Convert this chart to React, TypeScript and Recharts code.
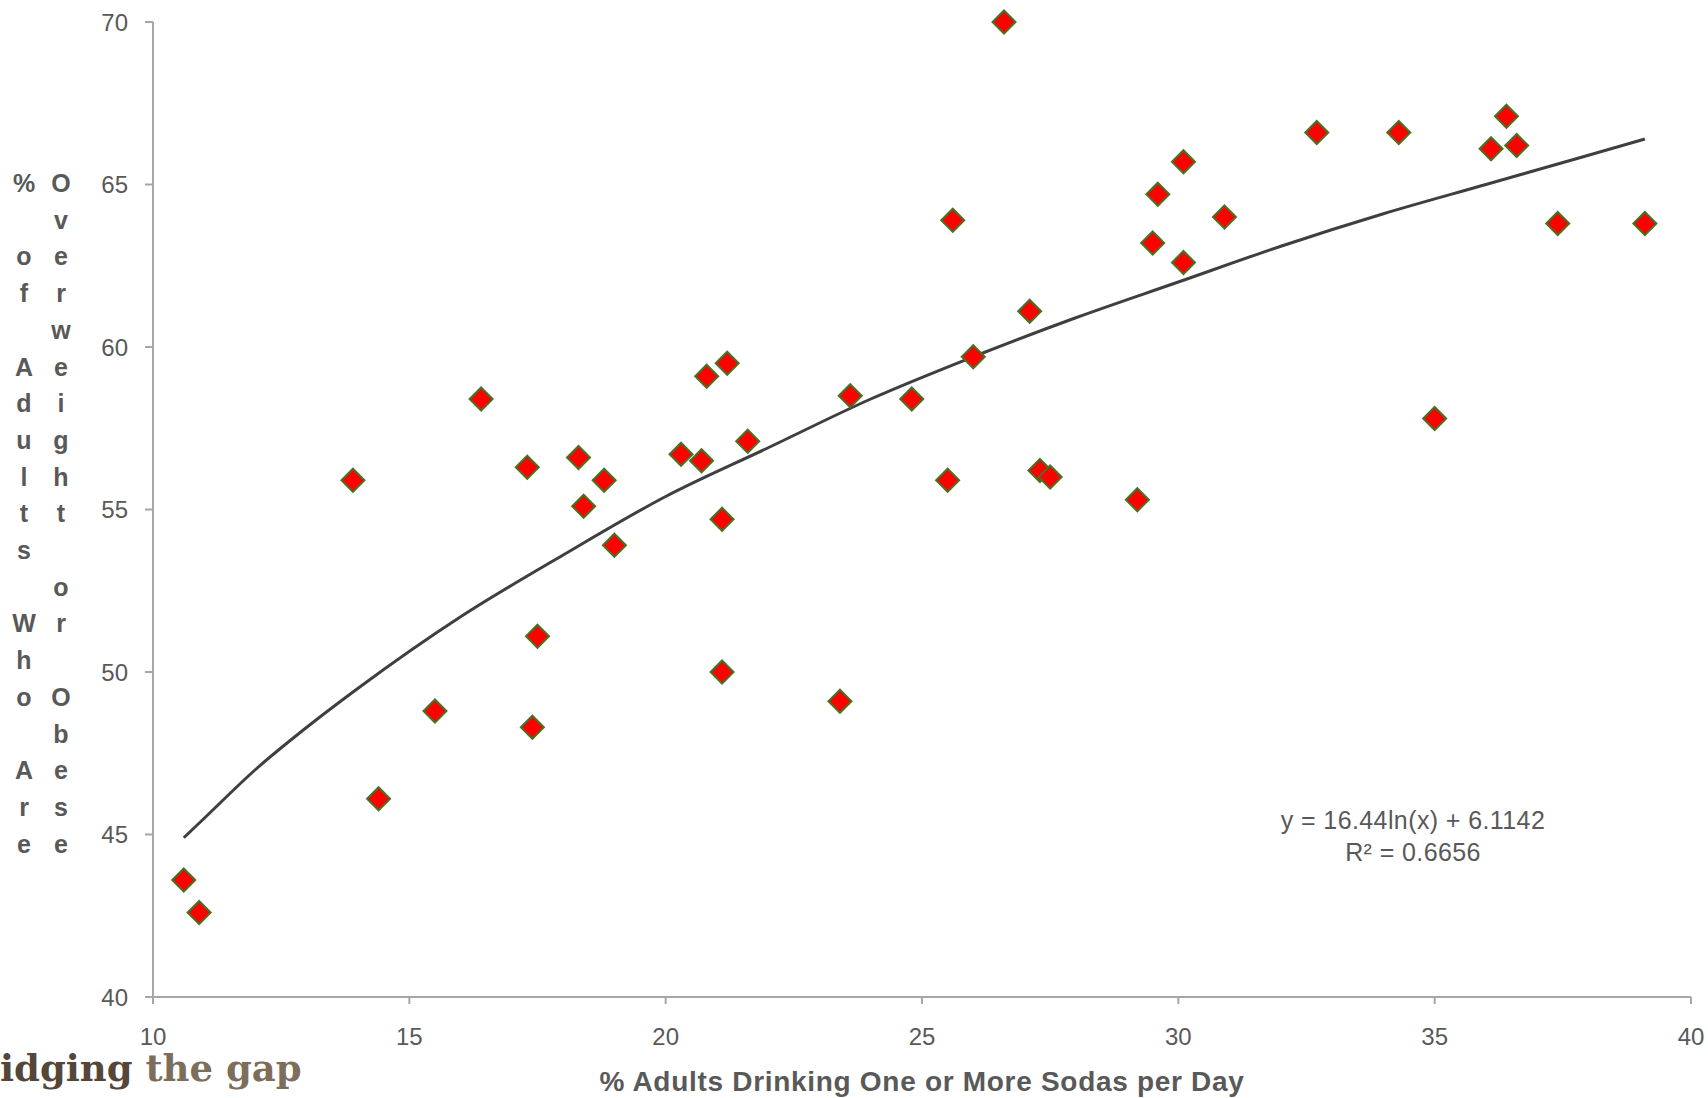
import { ComposedChart, Line, Scatter, XAxis, YAxis } from "recharts";

const AXIS = "#a6a6a6";
const TEXT = "#595959";
const RED = "#ff0000";
const GREEN = "#4a7023";
const TREND = "#3f3f3f";
const SANS = "'Liberation Sans', Arial, sans-serif";

// % adults drinking one or more sodas per day (one entry per state)
const SODA = [
  10.6, 10.9, 13.9, 14.4, 15.5, 16.4, 17.3, 17.4, 17.5, 18.3, 18.4, 18.8, 19.0, 20.3, 20.7,
  20.8, 21.2, 21.1, 21.1, 21.6, 23.4, 23.6, 24.8, 25.5, 25.6, 26.0, 26.6, 27.1, 27.3, 27.5,
  29.2, 29.5, 29.6, 30.1, 30.1, 30.9, 32.7, 34.3, 35.0, 36.1, 36.4, 36.6, 37.4, 39.1,
];
// % adults who are overweight or obese
const OBESE = [
  43.6, 42.6, 55.9, 46.1, 48.8, 58.4, 56.3, 48.3, 51.1, 56.6, 55.1, 55.9, 53.9, 56.7, 56.5,
  59.1, 59.5, 54.7, 50.0, 57.1, 49.1, 58.5, 58.4, 55.9, 63.9, 59.7, 70.0, 61.1, 56.2, 56.0,
  55.3, 63.2, 64.7, 62.6, 65.7, 64.0, 66.6, 66.6, 57.8, 66.1, 67.1, 66.2, 63.8, 63.8,
];

// logarithmic trendline
const TREND_X = [10.6, 11, 12, 13, 14, 16, 18, 20, 22, 24, 26, 28, 30, 32, 34, 36, 38, 39.1];
const TREND_Y = [44.9, 45.5, 47.0, 48.3, 49.5, 51.7, 53.6, 55.4, 56.9, 58.4, 59.7, 60.9, 62.0, 63.1, 64.1, 65.0, 65.9, 66.4];

const X_TICKS = [10, 15, 20, 25, 30, 35, 40];
const Y_TICKS = [40, 45, 50, 55, 60, 65, 70];

const Y_LABEL_COLUMNS = ["% of Adults Who Are", "Overweight or Obese"];
const X_LABEL = "% Adults Drinking One or More Sodas per Day";
const EQUATION = "y = 16.44ln(x) + 6.1142";
const R_SQUARED = "R² = 0.6656";

const points = SODA.map((x, i) => ({ x, y: OBESE[i] }));
const trend = TREND_X.map((x, i) => ({ x, y: TREND_Y[i] }));

const Diamond = (props: any) => {
  const { cx, cy } = props;
  const r = 11.5;
  return (
    <polygon
      points={`${cx},${cy - r} ${cx + r},${cy} ${cx},${cy + r} ${cx - r},${cy}`}
      fill={RED}
      stroke={GREEN}
      strokeWidth={2}
    />
  );
};

// Excel-style stacked text, wrapped into two columns
const StackedYLabel = () => (
  <g>
    {Y_LABEL_COLUMNS.map((col, c) => (
      <text
        key={col}
        fill={TEXT}
        fontFamily={SANS}
        fontWeight="bold"
        fontSize={25}
        textAnchor="middle"
        dominantBaseline="central"
      >
        {col.split("").map((ch, i) => (
          <tspan key={i} x={c === 0 ? 24 : 61} y={183 + i * 36.7}>
            {ch}
          </tspan>
        ))}
      </text>
    ))}
  </g>
);

const XTitle = (props: any) => {
  const vb = props.viewBox || { x: 153, y: 997, width: 1538 };
  return (
    <text
      x={vb.x + vb.width / 2}
      y={vb.y + 94}
      fill={TEXT}
      fontFamily={SANS}
      fontWeight="bold"
      fontSize={28}
      letterSpacing={0.7}
      textAnchor="middle"
    >
      {X_LABEL}
    </text>
  );
};

export default function App() {
  return (
    <div style={{ position: "absolute", left: 0, top: 0, width: 1708, height: 1098, background: "#fff" }}>
      <ComposedChart width={1708} height={1098} margin={{ top: 22, right: 17, bottom: 0, left: 0 }}>
        <XAxis
          type="number"
          dataKey="x"
          domain={[10, 40]}
          ticks={X_TICKS}
          height={101}
          tickSize={7}
          tickMargin={24}
          axisLine={{ stroke: AXIS, strokeWidth: 2 }}
          tickLine={{ stroke: AXIS, strokeWidth: 2 }}
          tick={{ fill: TEXT, fontSize: 24, fontFamily: SANS }}
          label={{ content: XTitle }}
        />
        <YAxis
          type="number"
          dataKey="y"
          domain={[40, 70]}
          ticks={Y_TICKS}
          width={153}
          tickSize={8}
          tickMargin={17}
          axisLine={{ stroke: AXIS, strokeWidth: 2 }}
          tickLine={{ stroke: AXIS, strokeWidth: 2 }}
          tick={{ fill: TEXT, fontSize: 24, fontFamily: SANS }}
          label={{ content: StackedYLabel }}
        />
        <Scatter data={points} dataKey="y" shape={Diamond} isAnimationActive={false} />
        <Line
          data={trend}
          dataKey="y"
          type="monotone"
          stroke={TREND}
          strokeWidth={3}
          dot={false}
          activeDot={false}
          isAnimationActive={false}
        />
      </ComposedChart>

      <div
        style={{
          position: "absolute",
          left: 1263,
          top: 804,
          width: 300,
          textAlign: "center",
          fontFamily: SANS,
          fontSize: 25,
          lineHeight: "32px",
          letterSpacing: 0.4,
          color: TEXT,
        }}
      >
        <div>{EQUATION}</div>
        <div>{R_SQUARED}</div>
      </div>

      <div
        style={{
          position: "absolute",
          left: 0,
          top: 1060,
          fontFamily: "'DejaVu Serif', serif",
          fontWeight: "bold",
          fontSize: 37,
          lineHeight: "16px",
          whiteSpace: "nowrap",
        }}
      >
        <span style={{ color: "#54473a" }}>idging </span>
        <span style={{ color: "#7d6e5c" }}>the gap</span>
      </div>
    </div>
  );
}
